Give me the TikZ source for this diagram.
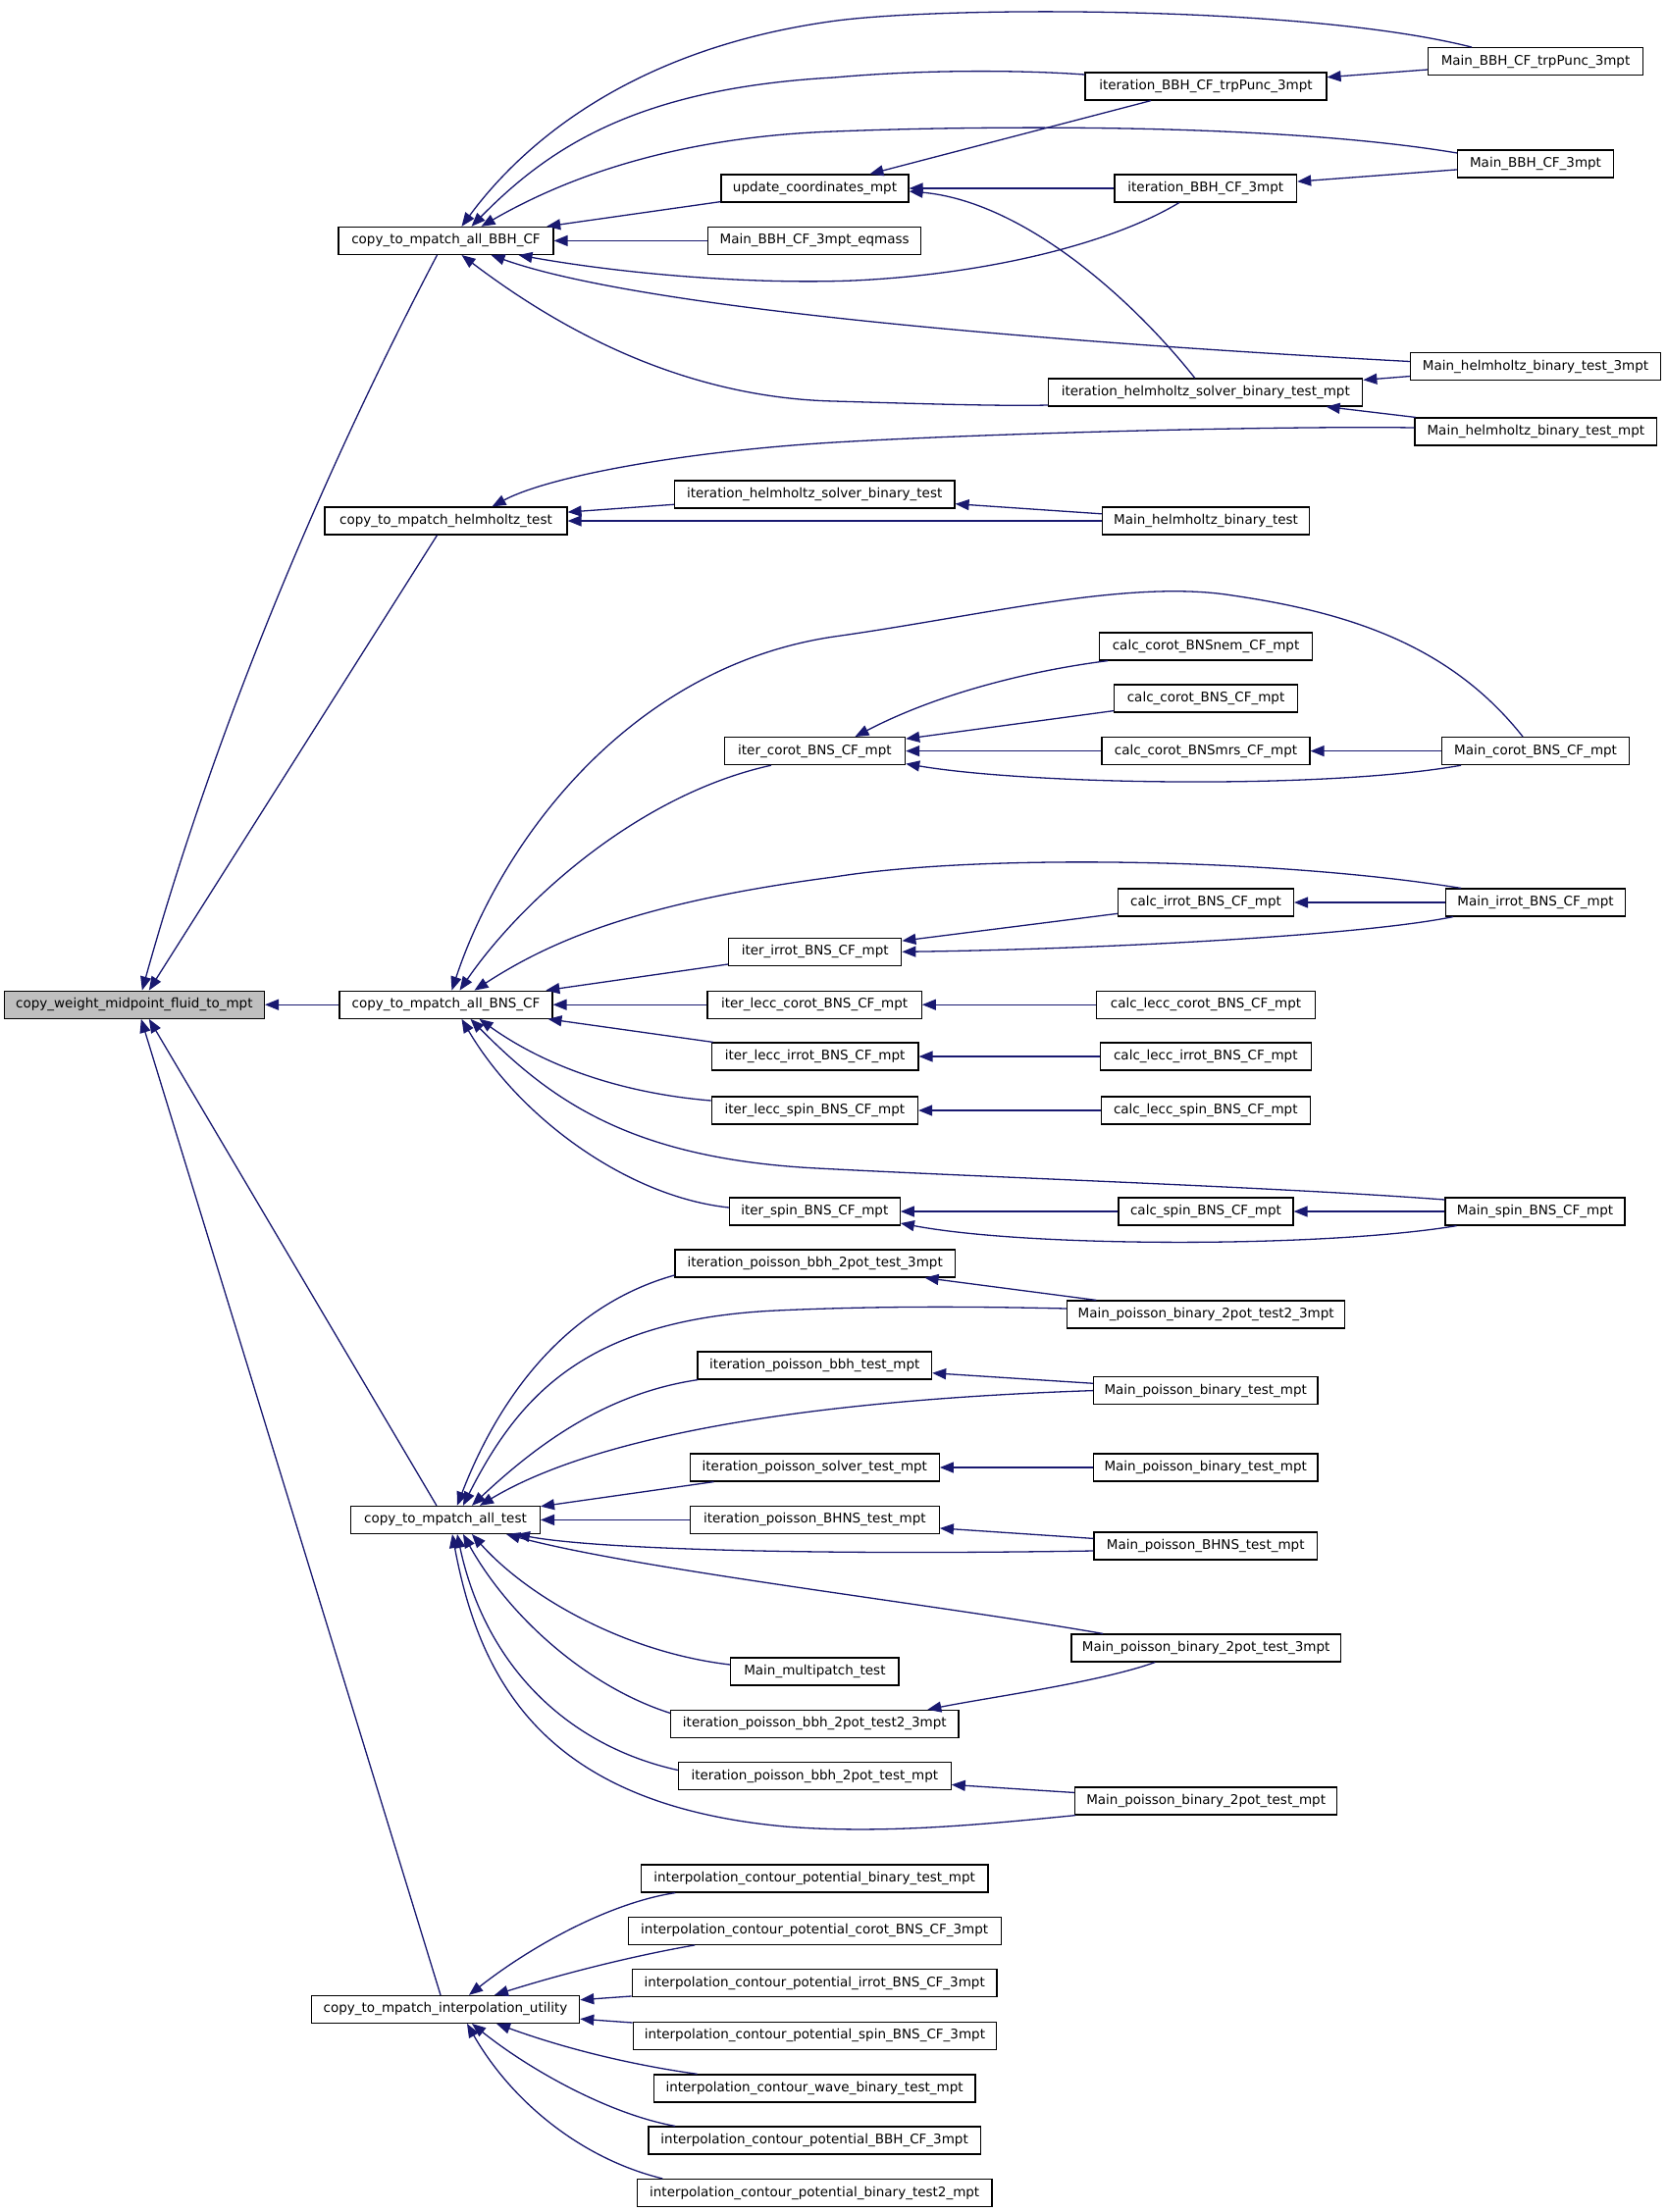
\documentclass[tikz,border=0pt]{standalone}
\usepackage{fontspec}
\setmainfont{DejaVu Sans}
\usetikzlibrary{arrows.meta}
\definecolor{edgec}{HTML}{191970}
\definecolor{rootfill}{HTML}{BFBFBF}
\tikzset{
 box/.style={draw=black, line width=1.2pt, fill=white, inner sep=0pt, minimum height=28pt, font=\fontsize{13.5pt}{16pt}\selectfont, anchor=center},
 e/.style={draw=edgec, line width=1.3pt, {Triangle[length=14pt,width=11pt]}-},
}
\newcommand{\nodebox}[6][]{\node[box,#1,minimum width={#4pt-#3pt}] (#2) at ({(#3+#4)/2},#5) {#6};}
\begin{document}
\begin{tikzpicture}[x=1pt,y=-1pt]
\fill[white] (0,0) rectangle (1699,2255);
\useasboundingbox (0,0) rectangle (1699,2255);
% ---- nodes ----
\nodebox[fill=rootfill]{n0}{4.3}{269.4}{1024.2}{copy\_weight\_midpoint\_fluid\_to\_mpt}
\nodebox{bbh}{345}{564}{245.4}{copy\_to\_mpatch\_all\_BBH\_CF}
\nodebox{hh}{331}{578}{531}{copy\_to\_mpatch\_helmholtz\_test}
\nodebox{bns}{346}{563}{1024.2}{copy\_to\_mpatch\_all\_BNS\_CF}
\nodebox{tst}{357.5}{550.4}{1549.4}{copy\_to\_mpatch\_all\_test}
\nodebox{itp}{317.3}{590.7}{2048.4}{copy\_to\_mpatch\_interpolation\_utility}
% BBH
\nodebox{upd}{735}{926}{192}{update\_coordinates\_mpt}
\nodebox{eqm}{721.6}{938.8}{245.4}{Main\_BBH\_CF\_3mpt\_eqmass}
\nodebox{ihs}{687.4}{973}{504}{iteration\_helmholtz\_solver\_binary\_test}
\nodebox{mhb}{1123.5}{1334.6}{531}{Main\_helmholtz\_binary\_test}
\nodebox{itp3}{1106}{1352}{88}{iteration\_BBH\_CF\_trpPunc\_3mpt}
\nodebox{mtp}{1455.4}{1674.7}{62.7}{Main\_BBH\_CF\_trpPunc\_3mpt}
\nodebox{ib3}{1136}{1321.6}{192}{iteration\_BBH\_CF\_3mpt}
\nodebox{mb3}{1485.7}{1644.4}{167}{Main\_BBH\_CF\_3mpt}
\nodebox{ihm}{1068.8}{1388.8}{400}{iteration\_helmholtz\_solver\_binary\_test\_mpt}
\nodebox{mh3}{1437.5}{1692.6}{373.5}{Main\_helmholtz\_binary\_test\_3mpt}
\nodebox{mhm}{1441.9}{1688.8}{440}{Main\_helmholtz\_binary\_test\_mpt}
% BNS
\nodebox{icor}{738.3}{922.6}{765.6}{iter\_corot\_BNS\_CF\_mpt}
\nodebox{iirr}{742.6}{918.8}{970.3}{iter\_irrot\_BNS\_CF\_mpt}
\nodebox{ilc}{721}{939.3}{1024.2}{iter\_lecc\_corot\_BNS\_CF\_mpt}
\nodebox{ili}{725.3}{936}{1077}{iter\_lecc\_irrot\_BNS\_CF\_mpt}
\nodebox{ils}{725.3}{935.5}{1132}{iter\_lecc\_spin\_BNS\_CF\_mpt}
\nodebox{isp}{743.4}{917.3}{1235}{iter\_spin\_BNS\_CF\_mpt}
\nodebox{cnem}{1120.7}{1337.4}{659}{calc\_corot\_BNSnem\_CF\_mpt}
\nodebox{ccor}{1135.4}{1322.7}{712}{calc\_corot\_BNS\_CF\_mpt}
\nodebox{cmrs}{1123}{1335}{765.6}{calc\_corot\_BNSmrs\_CF\_mpt}
\nodebox{mcor}{1469.5}{1660.6}{765.6}{Main\_corot\_BNS\_CF\_mpt}
\nodebox{cirr}{1139.7}{1318.4}{920}{calc\_irrot\_BNS\_CF\_mpt}
\nodebox{mirr}{1473.8}{1656.3}{920}{Main\_irrot\_BNS\_CF\_mpt}
\nodebox{clc}{1117.5}{1340.6}{1024.2}{calc\_lecc\_corot\_BNS\_CF\_mpt}
\nodebox{cli}{1121.3}{1336.3}{1077}{calc\_lecc\_irrot\_BNS\_CF\_mpt}
\nodebox{cls}{1122.4}{1335.2}{1132}{calc\_lecc\_spin\_BNS\_CF\_mpt}
\nodebox{csp}{1140}{1318}{1235}{calc\_spin\_BNS\_CF\_mpt}
\nodebox{msp}{1473}{1656}{1235}{Main\_spin\_BNS\_CF\_mpt}
% test
\nodebox{ip3}{688}{973.4}{1288}{iteration\_poisson\_bbh\_2pot\_test\_3mpt}
\nodebox{mp23}{1087.8}{1370.5}{1340}{Main\_poisson\_binary\_2pot\_test2\_3mpt}
\nodebox{ipb}{711}{949.6}{1392}{iteration\_poisson\_bbh\_test\_mpt}
\nodebox{mpb1}{1114.4}{1343}{1417.6}{Main\_poisson\_binary\_test\_mpt}
\nodebox{ips}{703.4}{957.3}{1496}{iteration\_poisson\_solver\_test\_mpt}
\nodebox{mpb2}{1114.4}{1343}{1496}{Main\_poisson\_binary\_test\_mpt}
\nodebox{ibh}{703.4}{957.3}{1549.4}{iteration\_poisson\_BHNS\_test\_mpt}
\nodebox{mbh}{1115}{1342.4}{1576}{Main\_poisson\_BHNS\_test\_mpt}
\nodebox{mp3}{1092}{1366.3}{1680}{Main\_poisson\_binary\_2pot\_test\_3mpt}
\nodebox{mmt}{744.8}{916}{1704}{Main\_multipatch\_test}
\nodebox{i23}{683.7}{977}{1757.4}{iteration\_poisson\_bbh\_2pot\_test2\_3mpt}
\nodebox{i2m}{691.4}{969.2}{1810.5}{iteration\_poisson\_bbh\_2pot\_test\_mpt}
\nodebox{m2m}{1095.5}{1362.8}{1836}{Main\_poisson\_binary\_2pot\_test\_mpt}
% interpolation
\nodebox{c1}{653.4}{1006.9}{1915}{interpolation\_contour\_potential\_binary\_test\_mpt}
\nodebox{c2}{640.2}{1020.1}{1968.3}{interpolation\_contour\_potential\_corot\_BNS\_CF\_3mpt}
\nodebox{c3}{644.3}{1016}{2021.8}{interpolation\_contour\_potential\_irrot\_BNS\_CF\_3mpt}
\nodebox{c4}{645.3}{1015.5}{2075.2}{interpolation\_contour\_potential\_spin\_BNS\_CF\_3mpt}
\nodebox{c5}{666.2}{994}{2128.9}{interpolation\_contour\_wave\_binary\_test\_mpt}
\nodebox{c6}{661}{999.2}{2182}{interpolation\_contour\_potential\_BBH\_CF\_3mpt}
\nodebox{c7}{649.4}{1011}{2235.5}{interpolation\_contour\_potential\_binary\_test2\_mpt}
% ---- edges: main ----
\draw[e] ([xshift=8pt]n0.north) .. controls (220,740) and (330,480) .. ([xshift=-9pt]bbh.south);
\draw[e] ([xshift=15pt]n0.north) -- ([xshift=-9pt]hh.south);
\draw[e] (n0) -- (bns);
\draw[e] ([xshift=15pt]n0.south) -- ([xshift=-9pt]tst.north);
\draw[e] ([xshift=7pt]n0.south) -- ([xshift=-5pt]itp.north);
% ---- BBH ----
\draw[e] ([xshift=16pt]bbh.north) .. controls (530,150) and (640,50) .. (850,21.4) .. controls (960,6.4) and (1330,5) .. ([xshift=-65pt]mtp.north);
\draw[e] ([xshift=26pt]bbh.north) .. controls (560,150) and (650,90) .. (850,79) .. controls (950,70) and (1050,72) .. ([yshift=12pt]itp3.west);
\draw[e] ([xshift=36pt]bbh.north) .. controls (570,185) and (680,140) .. (850,134) .. controls (1000,128) and (1300,125) .. ([yshift=11pt]mb3.west);
\draw[e] (bbh) -- (upd);
\draw[e] (bbh) -- (eqm);
\draw[e] ([xshift=74pt]bbh.south) .. controls (640,280) and (770,290) .. (870,286) .. controls (1000,280) and (1130,250) .. ([xshift=-27pt]ib3.south);
\draw[e] ([xshift=46pt]bbh.south) .. controls (640,310) and (1000,345) .. ([yshift=5pt]mh3.west);
\draw[e] ([xshift=16pt]bbh.south) .. controls (550,320) and (680,405) .. (850,409) .. controls (950,412) and (1020,414) .. ([yshift=-13pt]ihm.west);
\draw[e] (upd) -- (itp3);
\draw[e] (upd) -- (ib3);
\draw[e] ([yshift=-3pt]upd.east) .. controls (1040,205) and (1150,300) .. ([xshift=-11pt]ihm.north);
\draw[e] (itp3) -- (mtp);
\draw[e] (ib3) -- (mb3);
\draw[e] (ihm) -- (mh3);
\draw[e] (ihm) -- (mhm);
\draw[e] ([xshift=47pt]hh.north) .. controls (560,485) and (700,460) .. (850,451) .. controls (1000,442) and (1300,434) .. ([yshift=4pt]mhm.west);
\draw[e] (hh) -- (ihs);
\draw[e] (hh) -- (mhb);
\draw[e] (ihs) -- (mhb);
% ---- BNS ----
\draw[e] ([xshift=6pt]bns.north) .. controls (510,860) and (640,680) .. (850,649) .. controls (1000,628) and (1150,590) .. (1256,607) .. controls (1380,625) and (1480,660) .. ([xshift=-13pt]mcor.north);
\draw[e] ([xshift=14pt]bns.north) .. controls (530,920) and (650,810) .. ([xshift=-44.5pt]icor.south);
\draw[e] ([xshift=29pt]bns.north) .. controls (560,960) and (650,920) .. (850,894) .. controls (1000,870) and (1300,875) .. ([xshift=-76pt]mirr.north);
\draw[e] (bns) -- (iirr);
\draw[e] (bns) -- (ilc);
\draw[e] (bns) -- (ili);
\draw[e] ([xshift=34pt]bns.south) .. controls (560,1090) and (640,1115) .. ([yshift=10pt]ils.west);
\draw[e] ([xshift=25pt]bns.south) .. controls (560,1120) and (640,1180) .. (827.5,1190.7) .. controls (1000,1200) and (1300,1210) .. ([yshift=12pt]msp.west);
\draw[e] ([xshift=16pt]bns.south) .. controls (530,1140) and (640,1220) .. ([yshift=4pt]isp.west);
\draw[e] ([xshift=41pt]icor.north) .. controls (950,710) and (1040,685) .. ([xshift=-100pt]cnem.south);
\draw[e] (icor) -- (ccor);
\draw[e] (icor) -- (cmrs);
\draw[e] ([yshift=-13pt]icor.east) .. controls (1050,800) and (1350,805) .. ([xshift=-76pt]mcor.south);
\draw[e] (cmrs) -- (mcor);
\draw[e] (iirr) -- (cirr);
\draw[e] (iirr.east) .. controls (1100,968) and (1380,955) .. ([xshift=-84pt]mirr.south);
\draw[e] (cirr) -- (mirr);
\draw[e] (ilc) -- (clc);
\draw[e] (ili) -- (cli);
\draw[e] (ils) -- (cls);
\draw[e] (isp) -- (csp);
\draw[e] ([yshift=-12pt]isp.east) .. controls (1050,1272) and (1350,1272) .. ([xshift=-80pt]msp.south);
\draw[e] (csp) -- (msp);
% ---- test ----
\draw[e] ([xshift=12pt]tst.north) .. controls (510,1420) and (580,1330) .. ([yshift=-12pt]ip3.west);
\draw[e] ([xshift=18pt]tst.north) .. controls (530,1420) and (600,1345) .. (791,1336) .. controls (900,1331) and (1000,1332) .. ([yshift=6pt]mp23.west);
\draw[e] ([xshift=27pt]tst.north) .. controls (550,1470) and (620,1420) .. ([xshift=-119pt]ipb.south);
\draw[e] ([xshift=35pt]tst.north) .. controls (580,1480) and (750,1430) .. (mpb1.west);
\draw[e] (tst) -- (ips);
\draw[e] (tst) -- (ibh);
\draw[e] ([xshift=72pt]tst.south) .. controls (600,1578) and (800,1586) .. ([yshift=-5pt]mbh.west);
\draw[e] ([xshift=62pt]tst.south) .. controls (650,1600) and (950,1635) .. ([xshift=-105pt]mp3.north);
\draw[e] ([xshift=27pt]tst.south) .. controls (540,1630) and (640,1685) .. ([yshift=7pt]mmt.west);
\draw[e] ([xshift=18pt]tst.south) .. controls (520,1650) and (600,1720) .. ([yshift=11pt]i23.west);
\draw[e] ([xshift=12pt]tst.south) .. controls (495,1700) and (580,1780) .. ([yshift=6pt]i2m.west);
\draw[e] ([xshift=7pt]tst.south) .. controls (490,1720) and (560,1840) .. (800,1862) .. controls (900,1870) and (1000,1860) .. ([xshift=-133pt]m2m.south);
\draw[e] (ip3) -- (mp23);
\draw[e] (ipb) -- (mpb1);
\draw[e] (ips) -- (mpb2);
\draw[e] (ibh) -- (mbh);
\draw[e] ([xshift=115pt]i23.north) .. controls (1010,1730) and (1120,1715) .. ([xshift=-52pt]mp3.south);
\draw[e] (i2m) -- (m2m);
% ---- interpolation ----
\draw[e] ([xshift=24pt]itp.north) .. controls (540,1985) and (620,1940) .. ([xshift=-142pt]c1.south);
\draw[e] ([xshift=50pt]itp.north) .. controls (580,2010) and (650,1993) .. ([xshift=-122pt]c2.south);
\draw[e] (itp) -- (c3);
\draw[e] (itp) -- (c4);
\draw[e] ([xshift=52pt]itp.south) .. controls (580,2090) and (650,2106) .. ([xshift=-119.5pt]c5.north);
\draw[e] ([xshift=27pt]itp.south) .. controls (540,2110) and (620,2155) .. ([xshift=-142pt]c6.north);
\draw[e] ([xshift=22pt]itp.south) .. controls (520,2140) and (590,2200) .. ([xshift=-155pt]c7.north);
\end{tikzpicture}
\end{document}
